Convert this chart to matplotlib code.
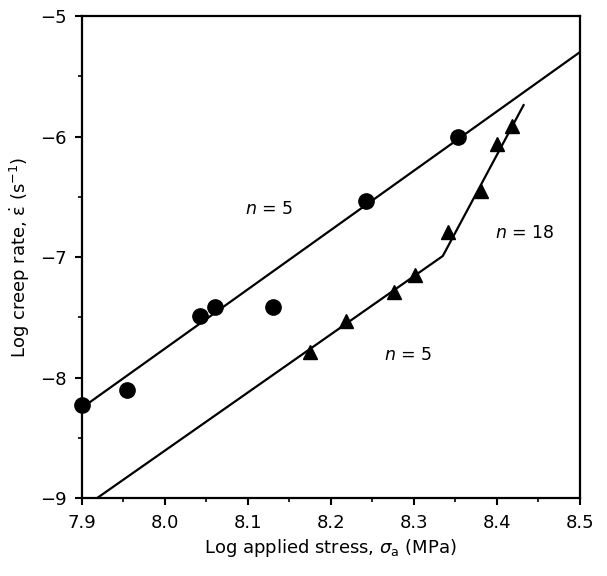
import numpy as np
import matplotlib.pyplot as plt
from matplotlib.ticker import MultipleLocator

# Creep data: log stress (MPa) vs log creep rate (1/s)
CIRCLE_X = [7.900, 7.954, 8.042, 8.060, 8.130, 8.243, 8.353]
CIRCLE_Y = [-8.23, -8.10, -7.49, -7.41, -7.41, -6.53, -6.00]

TRIANGLE_X = [8.175, 8.218, 8.276, 8.301, 8.341, 8.381, 8.400, 8.418]
TRIANGLE_Y = [-7.79, -7.53, -7.29, -7.15, -6.79, -6.45, -6.06, -5.91]

# Fitted lines
UPPER_LINE_X = [7.900, 8.500]
UPPER_LINE_Y = [-8.25, -5.30]
LOWER_LINE_X = [7.918, 8.335, 8.433]
LOWER_LINE_Y = [-9.00, -6.99, -5.73]

X_TICKS = [7.9, 8.0, 8.1, 8.2, 8.3, 8.4, 8.5]
Y_TICKS = [-9, -8, -7, -6, -5]

plt.rcParams['font.family'] = ['DejaVu Sans']

FIG = plt.figure(figsize=(6.07, 5.76), dpi=100)
AX = FIG.add_axes([0.135, 0.135, 0.82, 0.837])

AX.plot(UPPER_LINE_X, UPPER_LINE_Y, color='black', lw=1.6, solid_capstyle='butt')
AX.plot(LOWER_LINE_X, LOWER_LINE_Y, color='black', lw=1.6, solid_capstyle='butt')

AX.plot(CIRCLE_X, CIRCLE_Y, 'o', color='black', ms=11, clip_on=False, zorder=3)
AX.plot(TRIANGLE_X, TRIANGLE_Y, '^', color='black', ms=10, clip_on=False, zorder=3)

AX.text(8.126, -6.60, '$n$ = 5', fontsize=12.5, ha='center', va='center')
AX.text(8.434, -6.80, '$n$ = 18', fontsize=12.5, ha='center', va='center')
AX.text(8.293, -7.81, '$n$ = 5', fontsize=12.5, ha='center', va='center')

AX.set_xlim(7.9, 8.5)
AX.set_ylim(-9, -5)
AX.set_xticks(X_TICKS)
AX.set_xticklabels(['7.9', '8.0', '8.1', '8.2', '8.3', '8.4', '8.5'])
AX.set_yticks(Y_TICKS)
AX.set_yticklabels(['\u22129', '\u22128', '\u22127', '\u22126', '\u22125'])
AX.xaxis.set_minor_locator(MultipleLocator(0.05))
AX.yaxis.set_minor_locator(MultipleLocator(0.5))
AX.tick_params(which='major', direction='out', length=5, width=1.5,
               labelsize=13, pad=6)
AX.tick_params(which='minor', direction='out', length=3, width=1.2)

for spine in AX.spines.values():
    spine.set_linewidth(1.6)

AX.set_xlabel('Log applied stress, $\\sigma_\\mathrm{a}$ (MPa)', fontsize=13,
              labelpad=4)
AX.set_ylabel('Log creep rate, $\\dot{\\mathrm{\\varepsilon}}$ (s$^{-1}$)',
              fontsize=13, labelpad=6)

FIG.savefig('out.png', dpi=100)
